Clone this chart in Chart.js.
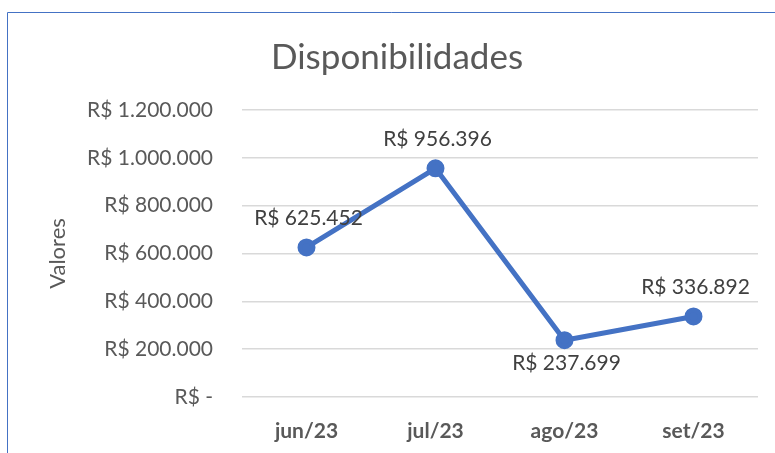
<!DOCTYPE html>
<html>
<head>
<meta charset="utf-8">
<script src="https://cdn.jsdelivr.net/npm/chart.js@4"></script>
<style>
html,body{margin:0;padding:0;background:#fff;}
#wrap{width:775px;height:453px;position:relative;}
</style>
</head>
<body>
<div id="wrap"><canvas id="c" width="775" height="453"></canvas></div>
<script>
const categories = ['jun/23', 'jul/23', 'ago/23', 'set/23'];
const valores = [625452, 956396, 237699, 336892];
const labelPositions = ['above', 'above', 'below', 'above'];
const yTicks = [0, 200000, 400000, 600000, 800000, 1000000, 1200000];

const FONT = 'Lato, "Open Sans", sans-serif';

function brl(v) {
  if (v === 0) return 'R$ -';
  const s = Math.round(v).toString().replace(/\B(?=(\d{3})+(?!\d))/g, '.');
  return 'R$ ' + s;
}

const framePlugin = {
  id: 'frame',
  beforeDraw(chart) {
    const ctx = chart.ctx;
    ctx.save();
    ctx.fillStyle = '#ffffff';
    ctx.fillRect(0, 0, chart.width, chart.height);
    ctx.strokeStyle = '#4472C4';
    ctx.lineWidth = 1;
    ctx.beginPath();
    ctx.moveTo(7.5, chart.height + 5);
    ctx.lineTo(7.5, 12.5);
    ctx.lineTo(chart.width + 5, 12.5);
    ctx.stroke();
    ctx.restore();
  }
};

const labelPlugin = {
  id: 'dataLabels',
  afterDatasetsDraw(chart) {
    const ctx = chart.ctx;
    const meta = chart.getDatasetMeta(0);
    ctx.save();
    ctx.font = '21px ' + FONT;
    ctx.fillStyle = '#404040';
    ctx.textAlign = 'center';
    ctx.textBaseline = 'middle';
    meta.data.forEach((pt, i) => {
      const dy = labelPositions[i] === 'above' ? -29 : 23;
      ctx.fillText(brl(valores[i]), pt.x + 2, pt.y + dy);
    });
    ctx.restore();
  }
};

new Chart(document.getElementById('c'), {
  type: 'line',
  data: {
    labels: categories,
    datasets: [{
      data: valores,
      borderColor: '#4472C4',
      backgroundColor: '#4472C4',
      borderWidth: 5,
      pointRadius: 6.5,
      pointHoverRadius: 6.5,
      pointBackgroundColor: '#4472C4',
      pointBorderColor: '#4472C4',
      tension: 0,
      fill: false
    }]
  },
  options: {
    responsive: false,
    animation: false,
    events: [],
    layout: { padding: { left: 36, right: 17, top: 12, bottom: 0 } },
    plugins: {
      legend: { display: false },
      tooltip: { enabled: false },
      title: {
        display: true,
        text: 'Disponibilidades',
        color: '#595959',
        font: { family: FONT, size: 35, weight: 'normal' },
        padding: { top: 25, bottom: 31 }
      }
    },
    scales: {
      x: {
        offset: true,
        grid: { display: false, drawTicks: false },
        border: { display: false },
        ticks: {
          color: '#595959',
          font: { family: FONT, size: 21, weight: 'bold' },
          padding: 22,
          maxRotation: 0
        },
        afterFit(scale) { scale.height = 56; }
      },
      y: {
        min: 0,
        max: 1200000,
        grid: { color: '#d9d9d9', lineWidth: 1.5, drawTicks: false },
        border: { display: false },
        afterBuildTicks(scale) { scale.ticks = yTicks.map(v => ({ value: v })); },
        ticks: {
          color: '#595959',
          font: { family: FONT, size: 21 },
          padding: 29,
          callback: (v) => brl(v)
        },
        title: {
          display: true,
          text: 'Valores',
          color: '#595959',
          font: { family: FONT, size: 22, weight: 'normal' },
          padding: { top: 9, bottom: 0 }
        },
        afterFit(scale) { scale.width = 206; }
      }
    }
  },
  plugins: [framePlugin, labelPlugin]
});
</script>
</body>
</html>
